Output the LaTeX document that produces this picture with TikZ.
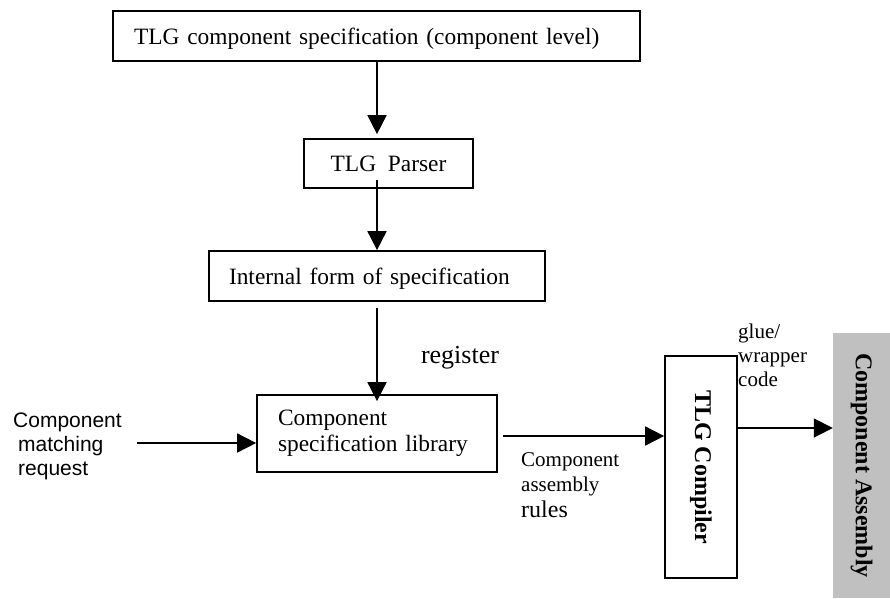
\documentclass[tikz,border=0pt]{standalone}
\usepackage{fontspec}
\setmainfont{Liberation Serif}
\newfontfamily\arialfont{Liberation Sans}
\usetikzlibrary{arrows.meta}
\definecolor{asmgray}{RGB}{192,192,192}
\begin{document}
\begin{tikzpicture}[x=1pt,y=-1pt,
  box/.style={draw, line width=1.7pt, inner sep=0pt, font=\fontsize{23.4}{26}\selectfont},
  onebox/.style={box, text depth=0pt},
  arr/.style={-{Triangle[length=19pt,width=19pt]}, line width=1.7pt},
  lbl/.style={inner sep=0pt, align=left}]
\useasboundingbox (0,0) rectangle (890,598);

% main pipeline boxes
\node[onebox, minimum width=527pt, minimum height=50pt, text width=485pt, align=left]
  (spec) at (376.5,36) {TLG component specification (component level)};
\node[onebox, minimum width=169pt, minimum height=49pt]
  (parser) at (388.5,163.5) {TLG\ \ Parser};
\node[onebox, minimum width=336pt, minimum height=50pt, text width=296pt, align=left]
  (form) at (377,276) {Internal form of specification};
\node[box, minimum width=240pt, minimum height=77pt, text width=198pt, align=left]
  (lib) at (377,433.5) {Component\\specification library};
\node[box, minimum width=72pt, minimum height=222pt, font=\fontsize{24}{26}\selectfont]
  (comp) at (701,467) {\rotatebox{-90}{\bfseries TLG Compiler}};
\node[fill=asmgray, inner sep=0pt, minimum width=57pt, minimum height=265pt,
  font=\fontsize{24}{26}\selectfont]
  (asm) at (861.5,465.5) {\rotatebox{-90}{\bfseries Component Assembly}};

% labels
\node[lbl, font=\fontsize{26}{28}\selectfont] (reg) at (460,358) {register};
\node[lbl, anchor=north west, font=\arialfont\fontsize{21}{23.7}\selectfont]
  (req) at (13,413) {Component\\\hspace*{5pt}matching\\\hspace*{5pt}request};
\node[lbl, anchor=north west, font=\fontsize{21}{25.5}\selectfont]
  (rules) at (521,452) {Component\\assembly\\{\fontsize{24}{25.5}\selectfont rules}};
\node[lbl, anchor=north west, font=\fontsize{21}{24}\selectfont]
  (glue) at (738,324) {glue/\\wrapper\\code};

% connectors (the vertical chain runs on the axis of the form box)
\coordinate (in) at (137,443);
\draw[arr, shorten >=4pt] (spec.south -| form.north) -- (parser.north -| form.north);
\draw[arr, shorten <=-9pt] (parser.south -| form.north) -- (form.north);
\draw[arr, shorten <=6pt, shorten >=-7pt] (form.south) -- (lib.north);
\draw[arr] (in) -- (in -| lib.west);
\draw[arr, shorten <=5pt] ([yshift=-2.5pt]lib.east) -- ([yshift=-2.5pt]lib.east -| comp.west);
\draw[arr] ([yshift=39pt]comp.east) -- ([yshift=39pt]comp.east -| asm.west);
\end{tikzpicture}
\end{document}
